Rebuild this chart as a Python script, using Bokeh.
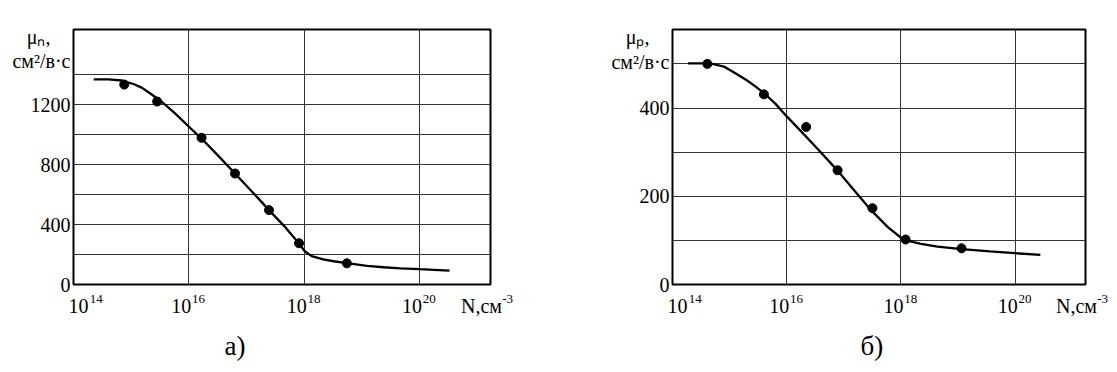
import numpy as np
from bokeh.plotting import figure
from bokeh.models import FixedTicker, CustomJSTickFormatter, Range1d, LogAxis, Title
from bokeh.layouts import row
from bokeh.embed import file_html
from bokeh.resources import INLINE

# ---- data: exponent of N (cm^-3) and mobility (cm^2/V*s) ----
# electrons (a)
n_curve_exp = [14.35, 14.60, 14.84, 15.05, 15.19, 15.35, 15.54, 15.77, 16.02, 16.22,
               16.49, 16.80, 17.10, 17.39, 17.65, 17.91, 18.01, 18.13, 18.33, 18.51,
               18.74, 19.09, 19.38, 19.67, 20.00, 20.25, 20.52]
n_curve_mu = [1367, 1367, 1360, 1335, 1311, 1268, 1215, 1137, 1045, 973,
              866, 740, 617, 496, 391, 273, 222, 189, 167, 155,
              143, 124, 115, 108, 102, 98, 93]
n_pts_exp = [14.88, 15.45, 16.22, 16.80, 17.39, 17.91, 18.74]
n_pts_mu = [1333, 1220, 978, 740, 496, 275, 141]

# holes (б)
p_curve_exp = [14.27, 14.49, 14.70, 14.90, 15.10, 15.30, 15.45, 15.60, 15.80, 16.00,
               16.26, 16.55, 16.87, 17.19, 17.48, 17.77, 18.00, 18.09, 18.35, 18.64,
               19.06, 19.56, 19.99, 20.44]
p_curve_mu = [501, 501, 500, 494, 479, 463, 449, 434, 410, 381,
              346, 306, 261, 212, 168, 130, 106, 100, 92, 86,
              80, 75, 71, 67]
p_pts_exp = [14.61, 15.60, 16.34, 16.89, 17.50, 18.08, 19.06]
p_pts_mu = [500, 431, 357, 259, 173, 102, 82]

x_tick_exp = [14, 16, 18, 20]
x_unit_base = "N,\u0441\u043c"
x_unit_exp = "-3"
n_y_labels = [0, 400, 800, 1200]
n_y_grid = [200, 400, 600, 800, 1000, 1200, 1400]
p_y_labels = [0, 200, 400]
p_y_grid = [100, 200, 300, 400, 500]
y_unit = "\u0441\u043c\u00b2/\u0432\u00b7\u0441"

FONT = "Liberation Serif"
NB = "\u00a0"

exp_code = """
const nb = String.fromCharCode(160);
const e = Math.log10(tick); const r = Math.round(e);
if (Math.abs(e - r) > 0.01) return nb.repeat(13) + unit;
let s = nb.repeat(6) + String(r);
if (r == 14) s = nb.repeat(8) + s;
return s;
"""
base_code = """
const nb = String.fromCharCode(160);
const e = Math.log10(tick); const r = Math.round(e);
if (Math.abs(e - r) > 0.01) return unit + nb.repeat(2);
let s = "10" + nb.repeat(3);
if (r == 14) s = nb.repeat(5) + s;
return s;
"""
y_code = """
const i = vals.indexOf(tick);
return i >= 0 ? txts[i] : String(tick);
"""


def style_axis(ax, size, standoff):
    ax.axis_line_color = None
    ax.major_tick_line_color = None
    ax.minor_tick_line_color = None
    ax.major_tick_out = 0
    ax.major_tick_in = 0
    ax.minor_tick_out = 0
    ax.minor_tick_in = 0
    ax.major_label_text_font = FONT
    ax.major_label_text_font_size = size
    ax.major_label_text_color = "black"
    ax.major_label_standoff = standoff


def make(curve_exp, curve_mu, pts_exp, pts_mu, ymax, ylabels, ygrid, sub,
         ylab_pos, width, mbl, mbr, caption, cap_off):
    p = figure(width=width, height=370, x_axis_type="log",
               x_range=Range1d(10 ** 14, 10 ** 21.23), y_range=Range1d(0, ymax),
               min_border_left=mbl, min_border_right=mbr, min_border_top=29,
               min_border_bottom=86, output_backend="svg", toolbar_location=None)
    p.outline_line_color = "black"
    p.outline_line_width = 2
    p.background_fill_color = "white"
    p.border_fill_color = "white"

    xt = [10.0 ** e for e in x_tick_exp] + [10 ** 21.16]
    ax_exp = p.xaxis[0]
    ax_exp.ticker = FixedTicker(ticks=xt, minor_ticks=[])
    ax_exp.formatter = CustomJSTickFormatter(args=dict(unit=x_unit_exp), code=exp_code)
    style_axis(ax_exp, "13px", 6)

    ax_base = LogAxis(ticker=FixedTicker(ticks=xt, minor_ticks=[]),
                      formatter=CustomJSTickFormatter(args=dict(unit=x_unit_base), code=base_code))
    style_axis(ax_base, "20px", -14)
    p.add_layout(ax_base, "below")

    p.xgrid.ticker = FixedTicker(ticks=[10.0 ** e for e in x_tick_exp])
    p.ygrid.ticker = FixedTicker(ticks=ygrid)

    yax = p.yaxis[0]
    ytxt = [y_unit, "\u03bc" + sub + "," + NB * 4]
    yax.ticker = FixedTicker(ticks=list(ylabels) + list(ylab_pos), minor_ticks=[])
    yax.formatter = CustomJSTickFormatter(args=dict(vals=list(ylab_pos), txts=ytxt), code=y_code)
    style_axis(yax, "20px", 3)

    p.xgrid.grid_line_color = "#333333"
    p.ygrid.grid_line_color = "#333333"

    cx = [10.0 ** e for e in curve_exp]
    px = [10.0 ** e for e in pts_exp]
    p.line(cx, curve_mu, line_color="black", line_width=2.3)
    p.scatter(px, pts_mu, size=9, fill_color="black", line_color="black")

    t = Title(text=caption, align="left", offset=cap_off, standoff=18,
              text_font=FONT, text_font_size="27px", text_font_style="normal",
              text_color="black")
    p.add_layout(t, "below")
    return p


p1 = make(n_curve_exp, n_curve_mu, n_pts_exp, n_pts_mu, 1700, n_y_labels, n_y_grid,
          "\u2099", [1492, 1653], 590, 73, 100, "\u0430)", 151)
p2 = make(p_curve_exp, p_curve_mu, p_pts_exp, p_pts_mu, 578, p_y_labels, p_y_grid,
          "\u209a", [505, 562], 525, 82, 30, "\u0431)", 188)

layout = row(p1, p2)
with open("out.html", "w", encoding="utf-8") as f:
    f.write(file_html(layout, INLINE))
